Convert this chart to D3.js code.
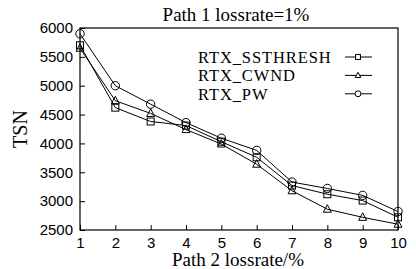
<!DOCTYPE html>
<html>
<head>
<meta charset="utf-8">
<script src="https://cdn.jsdelivr.net/npm/d3@7"></script>
<style>
  body { margin: 0; background: #fff; }
  svg { display: block; }
</style>
</head>
<body>
<div id="chart"></div>
<script>
// Path 2 lossrate (%)
var lossrates = [1, 2, 3, 4, 5, 6, 7, 8, 9, 10];
var yTicks = [2500, 3000, 3500, 4000, 4500, 5000, 5500, 6000];

var ssthresh = [5700, 4620, 4380, 4310, 4030, 3760, 3270, 3120, 3010, 2720];
var cwnd     = [5650, 4740, 4520, 4240, 3990, 3640, 3180, 2860, 2720, 2600];
var pw       = [5900, 5000, 4680, 4360, 4090, 3880, 3330, 3220, 3100, 2820];

var seriesNames = ["RTX_SSTHRESH", "RTX_CWND", "RTX_PW"];
var seriesMarks = ["square", "triangle", "circle"];

var W = 416, H = 269;
var m = {left: 80, top: 28, right: 18, bottom: 39};

var svg = d3.select("#chart").append("svg")
    .attr("width", W).attr("height", H);

var x = d3.scaleLinear().domain([1, 10]).range([m.left, W - m.right]);
var y = d3.scaleLinear().domain([2500, 6000]).range([H - m.bottom, m.top]);

// frame
svg.append("rect")
    .attr("x", x(1)).attr("y", y(6000))
    .attr("width", x(10) - x(1)).attr("height", y(2500) - y(6000))
    .attr("fill", "none").attr("stroke", "#000").attr("stroke-width", 1.2);

var xAxis = svg.append("g")
    .attr("transform", "translate(0," + y(2500) + ")")
    .call(d3.axisBottom(x).tickValues(lossrates).tickSize(-5).tickPadding(7).tickFormat(d3.format("d")));
var yAxis = svg.append("g")
    .attr("transform", "translate(" + x(1) + ",0)")
    .call(d3.axisLeft(y).tickValues(yTicks).tickSize(-5).tickPadding(7).tickFormat(d3.format("d")));

[xAxis, yAxis].forEach(function(a) {
    a.select(".domain").remove();
    a.selectAll("line").attr("stroke", "#000").attr("stroke-width", 1);
    a.selectAll("text")
        .attr("fill", "#000")
        .style("font-family", "Liberation Sans, Arial, sans-serif")
        .style("font-size", "15px");
});

function marker(g, type, cx, cy, s) {
    if (type === "square") {
        g.append("rect").attr("x", cx - 3.5 * s).attr("y", cy - 3.5 * s)
            .attr("width", 7 * s).attr("height", 7 * s);
    } else if (type === "triangle") {
        g.append("path")
            .attr("d", "M" + cx + "," + (cy - 4.5 * s) + "L" + (cx + 4 * s) + "," + (cy + 3 * s) + "L" + (cx - 4 * s) + "," + (cy + 3 * s) + "Z");
    } else {
        g.append("circle").attr("cx", cx).attr("cy", cy).attr("r", 4.2 * s);
    }
}

var line = d3.line()
    .x(function(d, i) { return x(lossrates[i]); })
    .y(function(d) { return y(d); });

[ssthresh, cwnd, pw].forEach(function(vals, k) {
    svg.append("path")
        .attr("d", line(vals))
        .attr("fill", "none").attr("stroke", "#000").attr("stroke-width", 1);
    var g = svg.append("g").attr("fill", "none").attr("stroke", "#000").attr("stroke-width", 1);
    vals.forEach(function(v, i) {
        marker(g, seriesMarks[k], x(lossrates[i]), y(v), 1);
    });
});

// legend
var serif = "Liberation Serif, Times New Roman, serif";
seriesNames.forEach(function(name, k) {
    var ly = 57 + k * 18.4;
    svg.append("text")
        .attr("x", 198).attr("y", ly + 6)
        .style("font-family", serif).style("font-size", "16.5px")
        .style("letter-spacing", "0.9px")
        .text(name);
    svg.append("line")
        .attr("x1", 345).attr("x2", 372).attr("y1", ly).attr("y2", ly)
        .attr("stroke", "#000").attr("stroke-width", 1);
    var g = svg.append("g").attr("fill", "#fff").attr("stroke", "#000").attr("stroke-width", 1);
    marker(g, seriesMarks[k], 358, ly, 0.7);
});

// titles
svg.append("text")
    .attr("x", 236).attr("y", 21)
    .attr("text-anchor", "middle")
    .style("font-family", serif).style("font-size", "19px")
    .text("Path 1 lossrate=1%");

svg.append("text")
    .attr("x", 238).attr("y", 266)
    .attr("text-anchor", "middle")
    .style("font-family", serif).style("font-size", "19px")
    .text("Path 2 lossrate/%");

svg.append("text")
    .attr("transform", "translate(27," + y(4250) + ") rotate(-90)")
    .attr("text-anchor", "middle")
    .style("font-family", serif).style("font-size", "20px")
    .text("TSN");
</script>
</body>
</html>
